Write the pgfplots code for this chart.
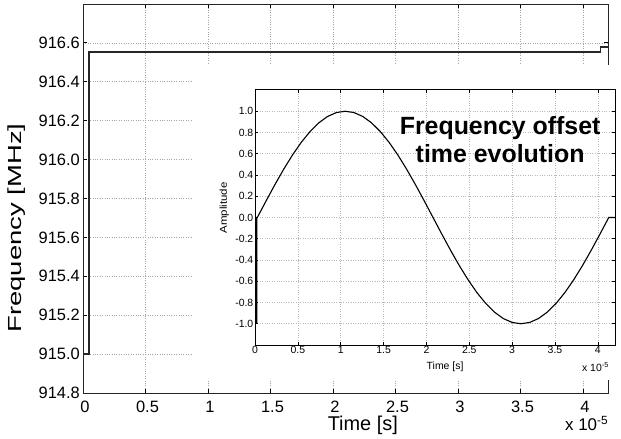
\documentclass[border=0pt]{standalone}
\usepackage{pgfplots}
\pgfplotsset{compat=1.18}
\usepackage{fontspec}
\setmainfont{Liberation Sans}
\usepackage{graphicx}

\begin{document}
\begin{tikzpicture}
\useasboundingbox (0,0) rectangle (621bp,439bp);
\begin{axis}[
  at={(83bp,46bp)}, anchor=south west,
  scale only axis, width=525bp, height=389bp,
  clip=false,
  xmin=0, xmax=4.2, ymin=914.8, ymax=916.8,
  xtick={0,0.5,1,1.5,2,2.5,3,3.5,4},
  xticklabels={0,0.5,1,1.5,2,2.5,3,3.5,4},
  ytick={914.8,915.0,915.2,915.4,915.6,915.8,916.0,916.2,916.4,916.6},
  yticklabel style={/pgf/number format/fixed, /pgf/number format/fixed zerofill, /pgf/number format/precision=1, /tikz/inner sep=3bp},
  /pgf/number format/assume math mode=true,
  tick label style={font=\fontsize{16.5}{18}\selectfont},
  xticklabel style={inner sep=0bp, yshift=-8bp, xshift=2bp},
  tick align=inside, major tick length=4bp,
  tick style={black, line width=0.8pt},
  grid=major, major grid style={gray!70, dotted, line width=0.7pt},
  axis line style={line width=0.9pt, black!85},
  xlabel={Time [s]},
  xlabel style={at={(axis description cs:0.533,-0.06)}, anchor=north, inner sep=0pt, font=\fontsize{20}{22}\selectfont},
  ylabel={\scalebox{1.45}[1]{Frequency [MHz]}},
  ylabel style={at={(axis description cs:-0.126,0.424)}, anchor=center, inner sep=0pt, font=\fontsize{19}{20}\selectfont},
]
\addplot[line width=1.6pt, black!85] coordinates {
  (0,915.0) (0.05,915.0) (0.05,916.553) (4.14,916.553) (4.14,916.578) (4.2,916.578)
};
\fill[white] (rel axis cs:0.2095,0.0334) rectangle (rel axis cs:1.03,0.843);
\node[anchor=base west, inner sep=0pt, font=\fontsize{17}{18}\selectfont] at (rel axis cs:0.918,-0.097) {x 10\textsuperscript{-5}};
\end{axis}

\begin{axis}[
  at={(255bp,94bp)}, anchor=south west,
  scale only axis, width=360bp, height=255bp,
  clip=false,
  axis background/.style={fill=white},
  xmin=0, xmax=4.2, ymin=-1.2, ymax=1.2,
  xtick={0,0.5,1,1.5,2,2.5,3,3.5,4},
  xticklabels={0,0.5,1,1.5,2,2.5,3,3.5,4},
  ytick={-1.0,-0.8,-0.6,-0.4,-0.2,0.0,0.2,0.4,0.6,0.8,1.0},
  yticklabel style={/pgf/number format/fixed, /pgf/number format/fixed zerofill, /pgf/number format/precision=1, /tikz/inner sep=1.5bp},
  /pgf/number format/assume math mode=true,
  tick label style={font=\fontsize{10.5}{12}\selectfont},
  xticklabel style={inner sep=1bp},
  tick align=inside, major tick length=3bp,
  tick style={black, line width=0.7pt},
  grid=major, major grid style={gray!55, dotted, line width=0.6pt},
  axis line style={line width=1pt, black},
  xlabel={Time [s]},
  xlabel style={at={(axis description cs:0.528,-0.086)}, anchor=center, inner sep=0pt, font=\fontsize{10.5}{12}\selectfont},
  ylabel={\scalebox{1.15}[1]{Amplitude}},
  ylabel style={at={(axis description cs:-0.085,0.537)}, anchor=center, inner sep=0pt, font=\fontsize{10}{12}\selectfont},
]
\addplot[line width=1.1pt, black] coordinates {
  (0.02,-1.0) (0.02,0.0) (0.027,0.0)
  (0.1295,0.1564) (0.232,0.3090) (0.3345,0.4540) (0.437,0.5878) (0.5395,0.7071)
  (0.642,0.8090) (0.7445,0.8910) (0.847,0.9511) (0.9495,0.9877) (1.052,1.0)
  (1.1545,0.9877) (1.257,0.9511) (1.3595,0.8910) (1.462,0.8090) (1.5645,0.7071)
  (1.667,0.5878) (1.7695,0.4540) (1.872,0.3090) (1.9745,0.1564) (2.077,0.0)
  (2.1795,-0.1564) (2.282,-0.3090) (2.3845,-0.4540) (2.487,-0.5878) (2.5895,-0.7071)
  (2.692,-0.8090) (2.7945,-0.8910) (2.897,-0.9511) (2.9995,-0.9877) (3.102,-1.0)
  (3.2045,-0.9877) (3.307,-0.9511) (3.4095,-0.8910) (3.512,-0.8090) (3.6145,-0.7071)
  (3.717,-0.5878) (3.8195,-0.4540) (3.922,-0.3090) (4.0245,-0.1564) (4.127,0.0)
  (4.2,0.0)
};
\node[align=center, inner sep=0pt, font=\bfseries\fontsize{25}{28}\selectfont] at (axis cs:2.86,0.73) {Frequency offset\\time evolution};
\node[anchor=base west, inner sep=0pt, font=\fontsize{10.5}{12}\selectfont] at (rel axis cs:0.908,-0.102) {x 10\textsuperscript{-5}};
\end{axis}
\end{tikzpicture}
\end{document}
